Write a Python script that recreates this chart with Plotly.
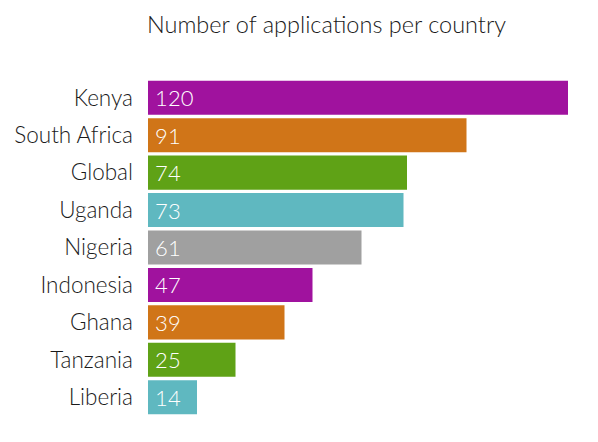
import plotly.graph_objects as go

countries = ["Kenya", "South Africa", "Global", "Uganda", "Nigeria",
             "Indonesia", "Ghana", "Tanzania", "Liberia"]
values = [120, 91, 74, 73, 61, 47, 39, 25, 14]
colors = ["#A0129E", "#D07518", "#5FA216", "#5FB8C0", "#A0A0A0",
          "#A0129E", "#D07518", "#5FA216", "#5FB8C0"]

fig = go.Figure(go.Bar(
    x=values, y=countries, orientation="h",
    marker=dict(color=colors, line=dict(width=0)),
    text=["\u2009\u200a" + str(v) for v in values],
    textposition="inside", insidetextanchor="start",
    textfont=dict(color="white", size=22, family="Lato", weight=300),
    cliponaxis=False,
))

fig.update_layout(
    width=598, height=442,
    margin=dict(l=148, r=30, t=79, b=26),
    paper_bgcolor="white", plot_bgcolor="white",
    bargap=0.09,
    showlegend=False,
    font=dict(family="Lato", color="#1a1a1a"),
    title=dict(text="Number of applications per country",
               x=326.5/598, xanchor="center", xref="container",
               y=1 - 25/442, yanchor="middle", yref="container",
               font=dict(size=23.5, color="#1a1a1a", family="Lato", weight=300)),
    xaxis=dict(range=[0, 120], visible=False, showgrid=False, zeroline=False),
    yaxis=dict(autorange="reversed", showgrid=False, zeroline=False,
               ticks="", tickfont=dict(size=22.5, color="#1a1a1a", family="Lato", weight=300),
               ticklabelstandoff=14),
)

fig.write_html("out.html")
